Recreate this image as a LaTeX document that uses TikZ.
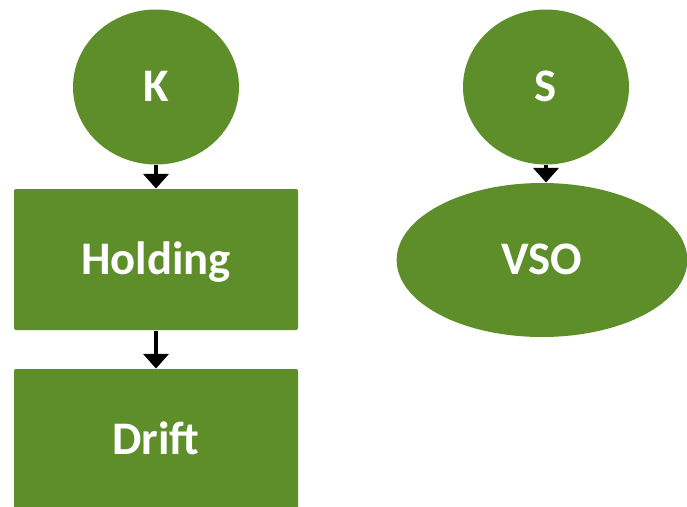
\documentclass[tikz,border=0pt]{standalone}
\usepackage{fontspec}
\setmainfont{Carlito}
\usetikzlibrary{shapes.geometric,arrows.meta}
\definecolor{leaf}{RGB}{94,142,42}

\tikzset{every picture/.style={line width=0.75pt}}
\tikzset{
  blob/.style={ellipse, fill=leaf, inner sep=0pt, text=white,
    text height=22.4pt, text depth=0pt,
    font=\bfseries\fontsize{35}{40}\selectfont},
  block/.style={rectangle, fill=leaf, rounded corners=1.5pt, inner sep=0pt, text=white,
    minimum width=213pt, minimum height=105.75pt,
    text height=22.4pt, text depth=0pt,
    font=\bfseries\fontsize{35}{40}\selectfont},
  link/.style={line width=2.4pt, -{Triangle[length=11pt,width=19pt]}}
}

\begin{document}
\begin{tikzpicture}[x=0.75pt,y=0.75pt,yscale=-1,xscale=1]
\useasboundingbox (0,0) rectangle (687,507);

% Left column
\node (k) [blob, minimum width=124.5pt, minimum height=116.25pt] at (156,87) {K};
\node (holding) [block] at (156,259.5) {Holding};
\node (drift) [block] at (156,439.5) {Drift};

% Right column
\node (s) [blob, minimum width=124.5pt, minimum height=116.25pt] at (546,87) {S};
\node (vso) [blob, minimum width=218pt, minimum height=115.5pt] at (542,260) {VSO};

% Arrows
\draw [link] (k.south) -- (holding.north);
\draw [link] (holding.south) -- (drift.north);
\draw [link] (s.south) -- (s.south |- vso.north);

\end{tikzpicture}
\end{document}
